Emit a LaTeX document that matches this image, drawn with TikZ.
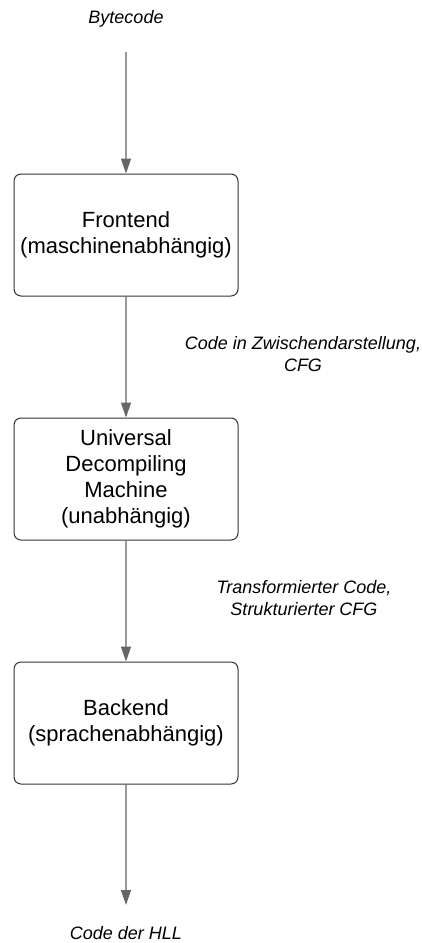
\documentclass[tikz,border=0pt]{standalone}
\usepackage{fontspec}
\setmainfont{Liberation Sans}
\usetikzlibrary{arrows.meta}
\definecolor{boxline}{HTML}{333333}
\definecolor{arrline}{HTML}{999999}
\definecolor{arrhead}{HTML}{666666}
\tikzset{
  stagebox/.style={draw=boxline, line width=1pt, rounded corners=7pt,
    minimum width=224pt, minimum height=122pt, inner sep=0pt,
    align=center, font=\fontsize{22}{25.8}\selectfont},
  flowarrow/.style={draw=arrline, line width=1.3pt,
    -{Triangle[width=10pt,length=15pt,color=arrhead]}},
  flowlabel/.style={align=center, inner sep=0pt,
    font=\itshape\fontsize{18}{21.3}\selectfont}
}
\begin{document}
\begin{tikzpicture}[x=1pt,y=-1pt]
\useasboundingbox (0,0) rectangle (422,943);
\node[stagebox] (fe) at (126,235) {Frontend\\(maschinenabhängig)};
\node[stagebox] (udm) at (126,479) {Universal\\Decompiling\\Machine\\(unabhängig)};
\node[stagebox] (be) at (126,723) {Backend\\(sprachenabhängig)};
\node[flowlabel] (bc) at (126,19) {Bytecode};
\node[flowlabel] (hll) at (126,933) {Code der HLL};
\node[flowlabel] (l1) at (303,354) {Code in Zwischendarstellung,\\CFG};
\node[flowlabel] (l2) at (304,598) {Transformierter Code,\\Strukturierter CFG};
\coordinate (start) at (126,52);
\coordinate (end) at (126,905);
\draw[flowarrow] (start) -- (fe.north);
\draw[flowarrow] (fe.south) -- (udm.north);
\draw[flowarrow] (udm.south) -- (be.north);
\draw[flowarrow] (be.south) -- (end);
\end{tikzpicture}
\end{document}
